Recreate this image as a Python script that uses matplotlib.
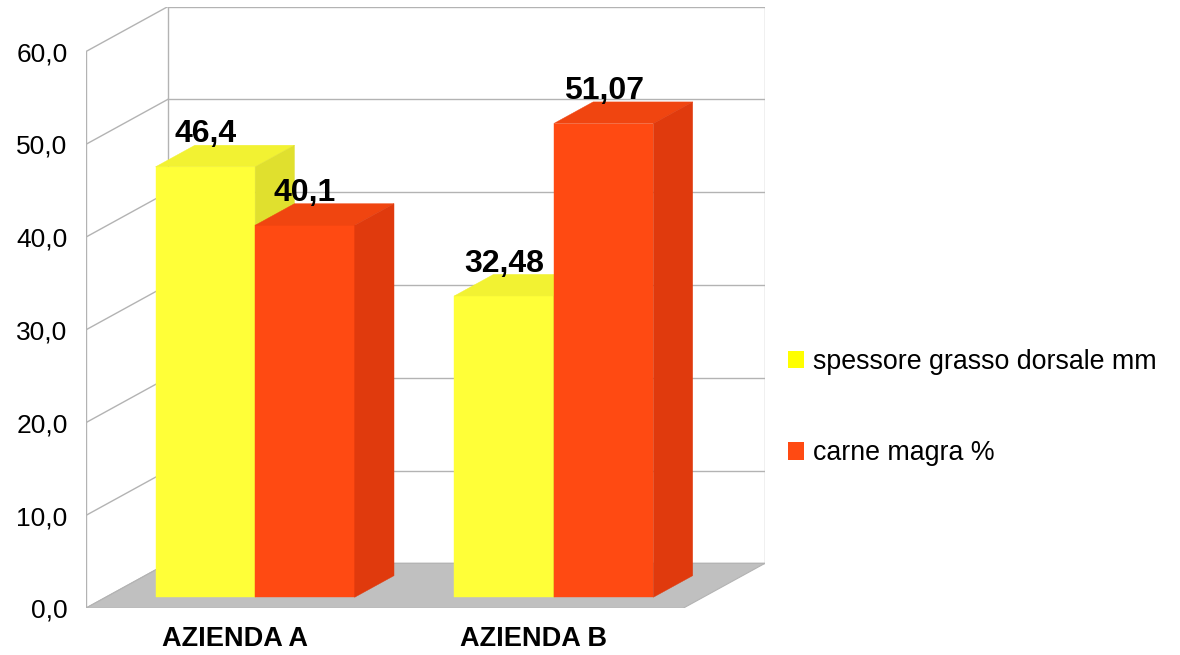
import matplotlib
matplotlib.use("Agg")
from matplotlib import pyplot as plt
from matplotlib.patches import Polygon, Patch

plt.rcParams['font.family'] = ['Liberation Sans', 'DejaVu Sans']

categories = ["AZIENDA A", "AZIENDA B"]
series_names = ["spessore grasso dorsale mm", "carne magra %"]
grasso = [46.4, 32.48]
carne = [40.1, 51.07]
grasso_labels = ["46,4", "32,48"]
carne_labels = ["40,1", "51,07"]
y_ticks = [0, 10, 20, 30, 40, 50, 60]
y_tick_labels = ["0,0", "10,0", "20,0", "30,0", "40,0", "50,0", "60,0"]

# front, top, side shades
yellow = ("#FFFF38", "#F2F232", "#E0E02E")
orange = ("#FF4A12", "#F04510", "#E03A0D")
legend_cols = ["#FFFF00", "#FF4A12"]
grid_col = "#B3B3B3"

# depth of the box (data units) and where the bars sit inside it
DX, DY = 0.2744, 4.85
F0, F1 = 0.245, 0.725
BAR_W = 1 / 3


def bar3d(ax, x0, h, cols, label):
    fx, fy = F0 * DX, F0 * DY
    bx, by = F1 * DX, F1 * DY
    x1 = x0 + BAR_W
    front = [(x0 + fx, fy), (x1 + fx, fy), (x1 + fx, h + fy), (x0 + fx, h + fy)]
    top = [(x0 + fx, h + fy), (x1 + fx, h + fy), (x1 + bx, h + by), (x0 + bx, h + by)]
    side = [(x1 + fx, fy), (x1 + bx, by), (x1 + bx, h + by), (x1 + fx, h + fy)]
    for pts, c in zip((front, top, side), cols):
        ax.add_patch(Polygon(pts, closed=True, facecolor=c, edgecolor=c, lw=0.3, zorder=3))
    return (x0 + BAR_W / 2 + fx, h + by + 0.3, label)


fig = plt.figure(figsize=(11.8, 6.55), dpi=100)
ax = fig.add_axes([85.7 / 1180, 46.7 / 655, (765 - 85.7) / 1180, 601.6 / 655])
xmax = len(categories) + DX
ax.set_xlim(0, xmax)
ax.set_ylim(0, y_ticks[-1] + DY)

# walls
for v in y_ticks:
    ax.plot([0, DX], [v, v + DY], color=grid_col, lw=1.0, zorder=1)
    ax.plot([DX, xmax], [v + DY, v + DY], color=grid_col, lw=1.0, zorder=1)
ax.plot([0, 0], [0, y_ticks[-1]], color=grid_col, lw=1.0, zorder=1)
ax.plot([DX, DX], [DY, y_ticks[-1] + DY], color=grid_col, lw=1.0, zorder=1)
ax.plot([xmax, xmax], [DY, y_ticks[-1] + DY], color=grid_col, lw=1.0, zorder=1)

# floor
n = len(categories)
ax.add_patch(Polygon([(0, 0), (n, 0), (n + DX, DY), (DX, DY)], closed=True,
                     facecolor="#C0C0C0", edgecolor=grid_col, lw=0.8, zorder=2))

labels = []
for i in range(n):
    start = i + 0.5 - BAR_W
    labels.append(bar3d(ax, start, grasso[i], yellow, grasso_labels[i]))
    labels.append(bar3d(ax, start + BAR_W, carne[i], orange, carne_labels[i]))

for x, y, s in labels:
    ax.text(x, y, s, ha="center", va="baseline", fontsize=23, fontweight="bold", zorder=5)

for sp in ax.spines.values():
    sp.set_visible(False)
ax.set_yticks(y_ticks)
ax.set_yticklabels(y_tick_labels, fontsize=19)
ax.set_xticks([i + 0.5 for i in range(n)])
ax.set_xticklabels(categories, fontsize=19.5, fontweight="bold")
ax.tick_params(axis="y", length=0, pad=13)
ax.tick_params(axis="x", length=0, pad=13)

handles = [Patch(facecolor=c, edgecolor="none") for c in legend_cols]
fig.legend(handles, series_names, loc="center left", bbox_to_anchor=(787.7 / 1180, 1 - 407.5 / 655),
           frameon=False, fontsize=19.3, handlelength=0.62, handleheight=0.62,
           handletextpad=0.33, labelspacing=2.45, borderpad=0, borderaxespad=0)

fig.savefig("out.png", dpi=100)
